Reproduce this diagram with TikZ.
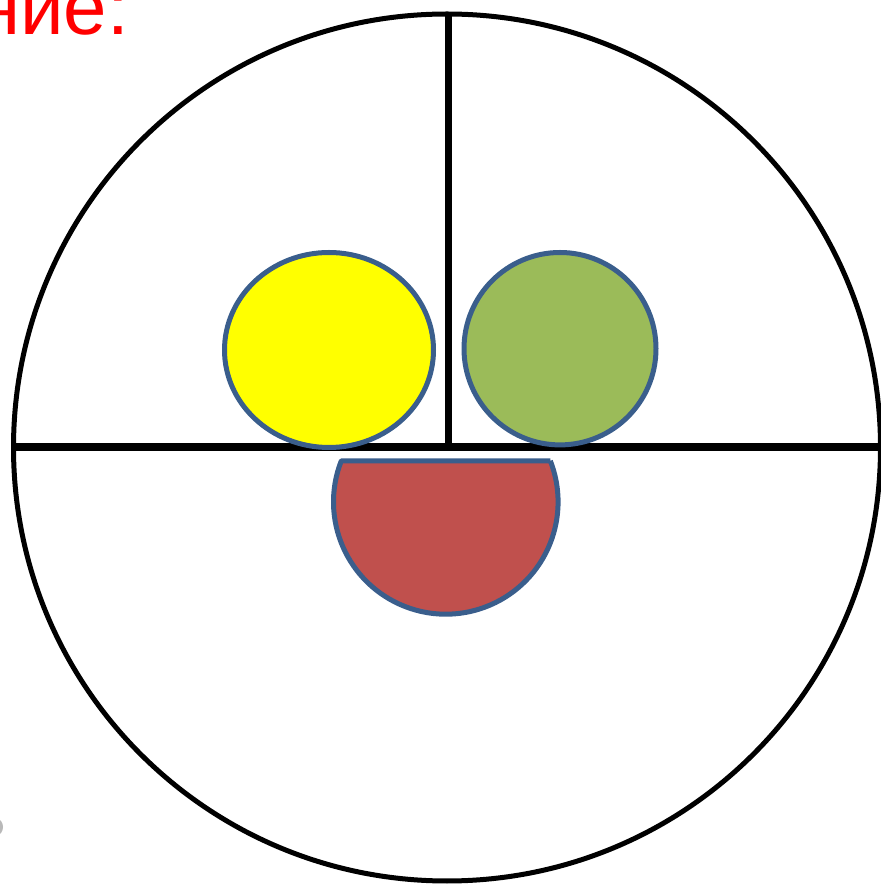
\documentclass[tikz,border=0pt]{standalone}
\usepackage{fontspec}
\setmainfont{Liberation Sans}
\definecolor{outl}{HTML}{3A5E8C}
\definecolor{ygreen}{HTML}{9BBB59}
\definecolor{mred}{HTML}{C0504D}
\definecolor{pyellow}{HTML}{FFFF00}
\begin{document}
\begin{tikzpicture}[x=1pt,y=1pt,
  thickline/.style={line width=5pt,black},
  divider/.style={line width=7pt,black},
  blob/.style={draw=outl,line width=5pt}]
\useasboundingbox (0,0) rectangle (881,884);
\node[anchor=base west,inner sep=0pt,text=red,font=\fontsize{78}{86}\selectfont] (title) at (-23,849) {ние:};
\draw[thickline] (447,436.5) circle (433.5);
\coordinate (vtop) at (448.5,871);
\coordinate (vbot) at (448.5,437);
\coordinate (hl) at (13,437);
\coordinate (hr) at (881,437);
\draw[divider] (vtop) -- (vbot);
\draw[divider,line width=8.5pt] (hl) -- (hr);
\draw[blob,fill=pyellow] (329,534) ellipse (104.5 and 97.5);
\draw[blob,fill=ygreen] (560,535.3) ellipse (96 and 96.2);
\draw[blob,fill=mred,line join=round] (550.3,423.2) -- (341.3,423.2) arc[start angle=158.53,end angle=381.47,radius=112.3];
\fill[gray!55] (-3,57) ellipse (6 and 8);
\end{tikzpicture}
\end{document}
